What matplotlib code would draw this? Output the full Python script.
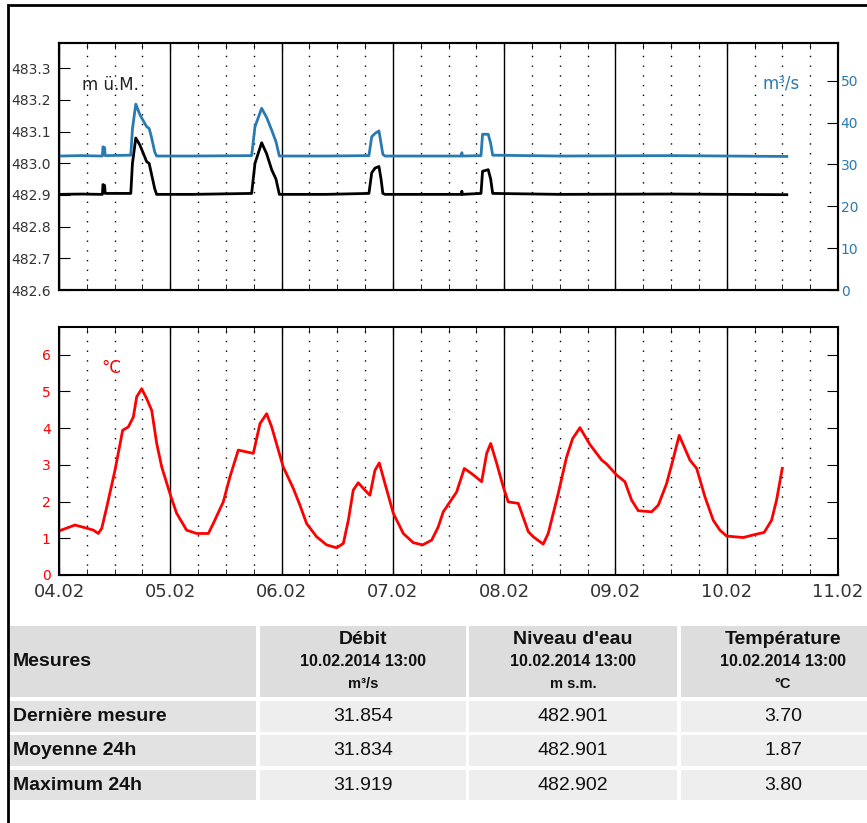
import matplotlib
matplotlib.use("Agg")
import matplotlib.pyplot as plt
from matplotlib.patches import Rectangle

# jours depuis le 04.02.2014 00:00
day_labels = ["04.02", "05.02", "06.02", "07.02", "08.02", "09.02", "10.02", "11.02"]

# débit (m3/s) et niveau (m ü.M.)
t_flow = [0.0, 0.2, 0.39, 0.395, 0.41, 0.415, 0.645, 0.66, 0.69, 0.728,
          0.788, 0.81, 0.83, 0.86, 0.877, 1.2, 1.731, 1.761, 1.821, 1.866,
          1.911, 1.95, 1.98, 2.4, 2.785, 2.81, 2.84, 2.875, 2.894, 2.91,
          2.93, 3.3, 3.615, 3.62, 3.625, 3.792, 3.806, 3.857, 3.879, 3.897,
          4.5, 5.5, 6.54]
flow = [32.0, 32.1, 32.0, 34.2, 34.0, 32.1, 32.2, 38.5, 44.4, 41.8,
        39.0, 38.6, 36.6, 33.0, 32.0, 32.0, 32.1, 39.0, 43.4, 41.2,
        38.2, 35.4, 32.0, 32.0, 32.1, 36.6, 37.4, 38.0, 35.0, 32.4,
        32.0, 32.0, 32.0, 32.8, 32.0, 32.1, 37.2, 37.2, 35.0, 32.2,
        32.0, 32.1, 31.9]
level = [482.902, 482.903, 482.902, 482.933, 482.93, 482.905, 482.905, 483.0, 483.08, 483.057,
         483.005, 483.0, 482.968, 482.92, 482.902, 482.902, 482.905, 483.0, 483.065, 483.03,
         482.98, 482.95, 482.902, 482.902, 482.905, 482.97, 482.985, 482.99, 482.95, 482.905,
         482.902, 482.902, 482.902, 482.912, 482.902, 482.905, 482.975, 482.98, 482.95, 482.905,
         482.902, 482.903, 482.901]

# température (°C)
t_temp = [0, 0.144, 0.254, 0.31, 0.353, 0.384, 0.43, 0.503, 0.572, 0.623,
          0.668, 0.698, 0.743, 0.788, 0.833, 0.878, 0.923, 1.006, 1.057, 1.147,
          1.237, 1.342, 1.386, 1.476, 1.536, 1.611, 1.686, 1.746, 1.806, 1.866,
          1.911, 2.015, 2.105, 2.165, 2.225, 2.315, 2.405, 2.495, 2.555, 2.6,
          2.644, 2.689, 2.749, 2.794, 2.839, 2.878, 2.929, 3.004, 3.094, 3.183,
          3.268, 3.349, 3.408, 3.453, 3.573, 3.642, 3.708, 3.798, 3.843, 3.879,
          3.933, 3.992, 4.037, 4.127, 4.217, 4.262, 4.351, 4.396, 4.486, 4.561,
          4.615, 4.681, 4.771, 4.876, 4.921, 5.011, 5.085, 5.145, 5.205, 5.325,
          5.385, 5.46, 5.52, 5.573, 5.669, 5.73, 5.804, 5.879, 5.939, 5.999,
          6.148, 6.238, 6.337, 6.403, 6.448, 6.499]
temp = [1.20, 1.36, 1.27, 1.22, 1.13, 1.27, 1.86, 2.85, 3.94, 4.03,
        4.30, 4.85, 5.07, 4.80, 4.48, 3.58, 2.94, 2.13, 1.68, 1.22,
        1.13, 1.13, 1.40, 1.99, 2.67, 3.40, 3.35, 3.31, 4.12, 4.39,
        4.03, 2.94, 2.36, 1.90, 1.40, 1.04, 0.82, 0.74, 0.86, 1.49,
        2.31, 2.51, 2.31, 2.17, 2.85, 3.05, 2.49, 1.68, 1.13, 0.88,
        0.82, 0.95, 1.31, 1.72, 2.26, 2.90, 2.76, 2.54, 3.31, 3.58,
        3.04, 2.40, 1.99, 1.95, 1.18, 1.04, 0.84, 1.13, 2.22, 3.21,
        3.71, 4.01, 3.55, 3.13, 3.02, 2.72, 2.54, 2.04, 1.75, 1.72,
        1.90, 2.49, 3.17, 3.80, 3.13, 2.90, 2.13, 1.49, 1.22, 1.06,
        1.02, 1.09, 1.16, 1.49, 2.04, 2.90]

# tableau
col_titles = ["Débit", "Niveau d'eau", "Température"]
col_dates = ["10.02.2014 13:00", "10.02.2014 13:00", "10.02.2014 13:00"]
col_units = ["m³/s", "m s.m.", "°C"]
row_labels = ["Dernière mesure", "Moyenne 24h", "Maximum 24h"]
table_values = [["31.854", "482.901", "3.70"],
                ["31.834", "482.901", "1.87"],
                ["31.919", "482.902", "3.80"]]

blue = "#2a7ab2"
red = "#ff0000"
W, H = 867, 823

fig = plt.figure(figsize=(W / 100, H / 100), dpi=100)

# fond : cadre + tableau en coordonnées pixels
bg = fig.add_axes([0, 0, 1, 1], zorder=-1)
bg.set_xlim(0, W)
bg.set_ylim(H, 0)
bg.axis("off")
bg.plot([8, 8, W], [H, 5, 5], color="black", lw=2, solid_joinstyle="miter")

cols = [(10, 256), (260, 466), (469, 677), (681, 885)]
rows = [(626, 697), (701, 732), (735, 766), (770, 800)]
tfont = "Liberation Sans"
for j, (x0, x1) in enumerate(cols):
    bg.add_patch(Rectangle((x0, rows[0][0]), x1 - x0, rows[0][1] - rows[0][0],
                           color="#dddddd", lw=0))
    for i, (y0, y1) in enumerate(rows[1:]):
        c = "#e2e2e2" if j == 0 else "#eeeeee"
        bg.add_patch(Rectangle((x0, y0), x1 - x0, y1 - y0, color=c, lw=0))

bg.text(13, 661, "Mesures", family=tfont, weight="bold", fontsize=14,
        va="center", ha="left", color="#111111")
for j in range(3):
    xc = (cols[j + 1][0] + cols[j + 1][1]) / 2
    bg.text(xc, 640, col_titles[j], family=tfont, weight="bold", fontsize=14,
            ha="center", va="center", color="#111111")
    bg.text(xc, 662, col_dates[j], family=tfont, weight="bold", fontsize=11.5,
            ha="center", va="center", color="#111111")
    bg.text(xc, 684, col_units[j], family=tfont, weight="bold", fontsize=10.5,
            ha="center", va="center", color="#111111")
for i, lab in enumerate(row_labels):
    yc = (rows[i + 1][0] + rows[i + 1][1]) / 2
    bg.text(13, yc, lab, family=tfont, weight="bold", fontsize=14,
            ha="left", va="center", color="#111111")
    for j in range(3):
        xc = (cols[j + 1][0] + cols[j + 1][1]) / 2
        bg.text(xc, yc, table_values[i][j], family=tfont, fontsize=14,
                ha="center", va="center", color="#111111")

# graphiques
left, width = 59 / W, 779 / W
ax1 = fig.add_axes([left, 1 - 290 / H, width, 247 / H])
ax2 = fig.add_axes([left, 1 - 575 / H, width, 248 / H])


def style_time_axis(ax):
    ax.set_xlim(0, 7)
    ax.set_xticks(range(8))
    ax.set_xticks([d / 4 for d in range(29) if d % 4], minor=True)
    ax.grid(True, which="major", axis="x", color="black", lw=1, ls="-")
    ax.grid(True, which="minor", axis="x", color="black", lw=1, ls=(0, (1, 6)))
    ax.tick_params(axis="x", which="both", direction="in", top=True, bottom=True)
    ax.tick_params(axis="x", which="major", length=6)
    ax.tick_params(axis="x", which="minor", length=4)
    for s in ax.spines.values():
        s.set_linewidth(1.5)


style_time_axis(ax1)
ax1.plot(t_flow, level, color="black", lw=2)
ax1.set_ylim(482.6, 483.38)
ax1.set_yticks([482.6 + 0.1 * k for k in range(8)])
ax1.set_yticklabels(["%.1f" % (482.6 + 0.1 * k) for k in range(8)])
ax1.tick_params(axis="y", direction="in", length=8, labelsize=10,
                labelcolor="#333333", pad=6)
ax1.set_xticklabels([])
ax1.text(0.03, 0.83, "m ü.M.", transform=ax1.transAxes, fontsize=12,
         color="#222222", va="center", ha="left")

ax1r = ax1.twinx()
ax1r.plot(t_flow, flow, color=blue, lw=2)
ax1r.set_ylim(0, 59)
ax1r.set_yticks(range(0, 60, 10))
ax1r.tick_params(axis="y", direction="in", length=8, labelsize=10,
                 labelcolor=blue, pad=2)
for s in ax1r.spines.values():
    s.set_linewidth(1.5)
ax1r.text(0.9025, 0.838, "m³/s", transform=ax1r.transAxes, fontsize=12,
          color=blue, va="center", ha="left")

style_time_axis(ax2)
ax2.plot(t_temp, temp, color=red, lw=2)
ax2.set_ylim(0, 6.75)
ax2.set_yticks(range(7))
ax2.tick_params(axis="y", direction="in", length=8, labelsize=10,
                labelcolor=red, right=True, pad=6)
ax2.set_xticklabels(day_labels)
ax2.tick_params(axis="x", which="major", labelsize=13, labelcolor="#333333", pad=6)
ax2.text(0.055, 0.835, "°C", transform=ax2.transAxes, fontsize=12,
         color=red, va="center", ha="left")

fig.savefig("out.png", dpi=100)
